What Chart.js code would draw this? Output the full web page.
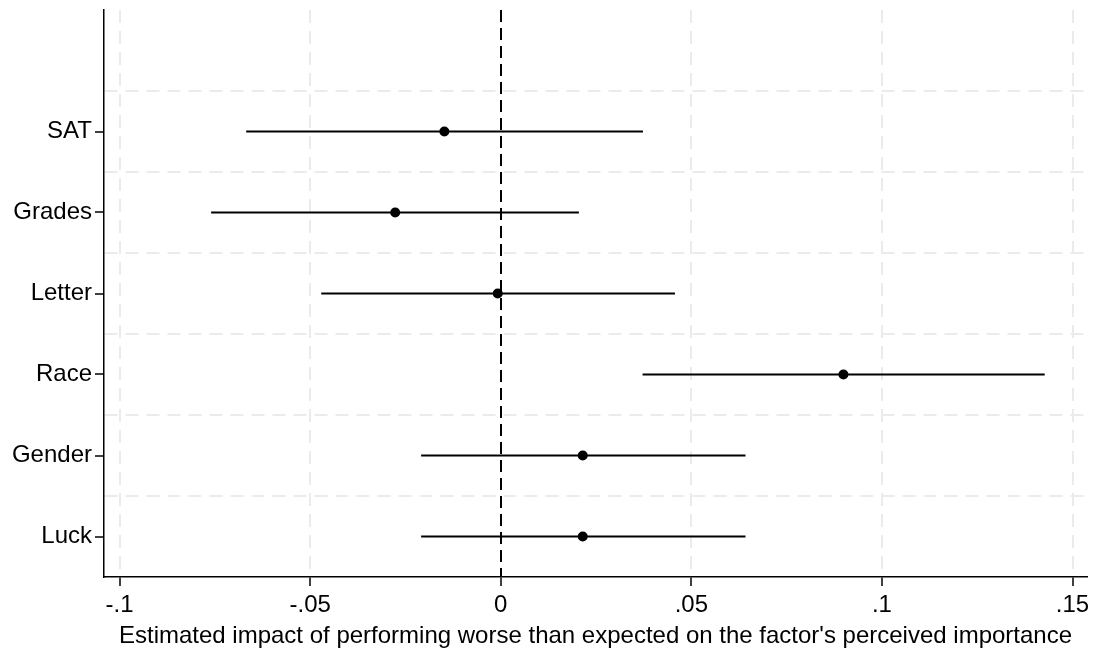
<!DOCTYPE html>
<html>
<head>
<meta charset="utf-8">
<script src="https://cdn.jsdelivr.net/npm/chart.js@4/dist/chart.umd.min.js"></script>
<style>
  html, body { margin: 0; padding: 0; background: #fff; }
  #wrap { width: 1096px; height: 651px; }
</style>
</head>
<body>
<div id="wrap"><canvas id="coefChart"></canvas></div>
<script>
// factors, top to bottom
const factors = ['SAT', 'Grades', 'Letter', 'Race', 'Gender', 'Luck'];
// point estimates and 95% CI bounds
const estimates = [-0.0148, -0.0277, -0.0008, 0.0899, 0.0215, 0.0215];
const ciLow = [-0.0668, -0.0760, -0.0471, 0.0372, -0.0209, -0.0209];
const ciHigh = [0.0373, 0.0205, 0.0457, 0.1427, 0.0642, 0.0642];
const xTicks = [-0.1, -0.05, 0, 0.05, 0.1, 0.15];
const xTickLabels = ['-.1', '-.05', '0', '.05', '.1', '.15'];
const xTitle = "Estimated impact of performing worse than expected on the factor's perceived importance";

const FONT = "'Liberation Sans', Arial, Helvetica, sans-serif";
const n = factors.length;
// Luck sits at 1, SAT at 6
const yPos = factors.map((f, i) => n - i);

const datasets = [];
for (let i = 0; i < n; i++) {
    datasets.push({
        type: 'line',
        data: [{ x: ciLow[i], y: yPos[i] }, { x: ciHigh[i], y: yPos[i] }],
        borderColor: '#000',
        borderWidth: 2,
        pointRadius: 0,
        fill: false
    });
}
datasets.push({
    type: 'scatter',
    data: estimates.map((v, i) => ({ x: v, y: yPos[i] })),
    backgroundColor: '#000',
    borderColor: '#000',
    pointRadius: 5,
    borderWidth: 0
});

// y ticks: integers carry labels and tick marks, halves carry the grid lines
const yTickVals = [];
for (let v = 1; v <= n + 0.5; v += 0.5) yTickVals.push(v);

const isWhole = v => Math.abs(v - Math.round(v)) < 1e-9;

const chart = new Chart(document.getElementById('coefChart'), {
    type: 'scatter',
    data: { datasets: datasets },
    options: {
        responsive: true,
        maintainAspectRatio: false,
        animation: false,
        layout: { padding: { top: 10, right: 9, left: 0, bottom: 0 } },
        plugins: { legend: { display: false }, tooltip: { enabled: false } },
        scales: {
            x: {
                type: 'linear',
                min: -0.1041,
                max: 0.1538,
                afterBuildTicks: scale => { scale.ticks = xTicks.map(v => ({ value: v })); },
                afterFit: scale => {
                    scale.height = 74;
                    scale.paddingLeft = 0;
                    scale.paddingRight = 0;
                },
                ticks: {
                    color: '#000',
                    font: { family: FONT, size: 24 },
                    padding: 5,
                    maxRotation: 0,
                    callback: (val) => {
                        const k = xTicks.findIndex(t => Math.abs(t - val) < 1e-9);
                        return k >= 0 ? xTickLabels[k] : '';
                    }
                },
                grid: {
                    color: ctx => (ctx.tick && Math.abs(ctx.tick.value) < 1e-9) ? '#000' : '#ebebeb',
                    lineWidth: 2,
                    tickColor: '#000',
                    tickWidth: 1.5,
                    tickLength: 9,
                    drawTicks: true
                },
                border: {
                    display: true,
                    color: '#000',
                    width: 1.5,
                    dash: ctx => (ctx.tick && Math.abs(ctx.tick.value) < 1e-9) ? [12, 6] : [13, 8]
                },
                title: {
                    display: true,
                    text: xTitle,
                    color: '#000',
                    font: { family: FONT, size: 24 },
                    padding: { top: 0, bottom: 0 }
                }
            },
            y: {
                type: 'linear',
                min: 0.5,
                max: n + 1.5,
                afterBuildTicks: scale => { scale.ticks = yTickVals.map(v => ({ value: v })); },
                afterFit: scale => {
                    scale.width = 104;
                    scale.paddingTop = 0;
                    scale.paddingBottom = 0;
                },
                ticks: {
                    color: '#000',
                    font: { family: FONT, size: 24 },
                    padding: 3,
                    callback: (val) => isWhole(val) ? factors[n - Math.round(val)] : ''
                },
                grid: {
                    color: ctx => (ctx.tick && !isWhole(ctx.tick.value)) ? '#ebebeb' : 'rgba(0,0,0,0)',
                    lineWidth: 2,
                    tickColor: ctx => (ctx.tick && isWhole(ctx.tick.value)) ? '#000' : 'rgba(0,0,0,0)',
                    tickWidth: 1.5,
                    tickLength: 9
                },
                border: {
                    display: true,
                    color: '#000',
                    width: 1.5,
                    dash: [13, 8]
                }
            }
        }
    }
});
</script>
</body>
</html>
